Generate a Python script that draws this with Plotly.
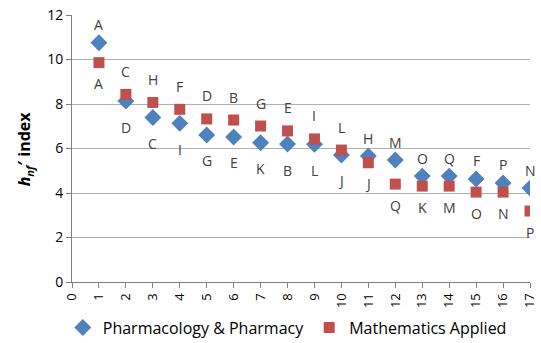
import plotly.graph_objects as go

ranks = list(range(1, 18))
pharm_values = [10.75, 8.13, 7.39, 7.13, 6.61, 6.52, 6.26, 6.20, 6.19, 5.71, 5.66, 5.48, 4.76, 4.76, 4.63, 4.45, 4.22]
pharm_labels = ["A", "D", "C", "I", "G", "E", "K", "B", "L", "J", "H", "M", "O", "Q", "F", "P", "N"]
pharm_pos = ["above", "below", "below", "below", "below", "below", "below", "below", "below", "below",
             "above", "above", "above", "above", "above", "above", "above"]
math_values = [9.86, 8.43, 8.07, 7.76, 7.33, 7.28, 7.01, 6.79, 6.43, 5.93, 5.36, 4.40, 4.31, 4.31, 4.04, 4.04, 3.19]
math_labels = ["A", "C", "H", "F", "D", "B", "G", "E", "I", "L", "J", "Q", "K", "M", "O", "N", "P"]
math_pos = ["below", "above", "above", "above", "above", "above", "above", "above", "above", "above",
            "below", "below", "below", "below", "below", "below", "below"]
series_names = ["Pharmacology & Pharmacy", "Mathematics Applied"]
x_ticks = list(range(0, 18))
y_ticks = [0, 2, 4, 6, 8, 10, 12]

BLUE = "#4f81bd"
RED = "#c0504d"
FONT = "Open Sans"

fig = go.Figure()
fig.add_trace(go.Scatter(x=ranks, y=pharm_values, mode="markers", name=series_names[0],
                         marker=dict(symbol="diamond", size=13, color=BLUE)))
fig.add_trace(go.Scatter(x=ranks, y=math_values, mode="markers", name=series_names[1],
                         marker=dict(symbol="square", size=11, color=RED)))

annotations = []
for xs, ys, labs, poss, up, down in [
    (ranks, pharm_values, pharm_labels, pharm_pos, 18, -26),
    (ranks, math_values, math_labels, math_pos, 23, -21),
]:
    for x, y, lab, pos in zip(xs, ys, labs, poss):
        annotations.append(dict(x=x, y=y, text=lab, showarrow=False, xref="x", yref="y",
                                yshift=up if pos == "above" else down,
                                font=dict(family=FONT, size=14, color="#404040")))

annotations.append(dict(text="<b><i>h</i><sub><i>nf</i></sub>\u2032 index</b>", xref="paper", yref="paper",
                        x=-0.103, y=0.5, xanchor="center", yanchor="middle", textangle=-90, showarrow=False,
                        font=dict(family=FONT, size=16, color="#000000")))

fig.update_layout(
    width=541, height=343,
    margin=dict(l=72, r=11, t=15, b=61, autoexpand=False),
    paper_bgcolor="white", plot_bgcolor="white",
    font=dict(family=FONT, size=13, color="#000000"),
    showlegend=True,
    legend=dict(orientation="h", x=0.47, xanchor="center", yref="container", y=0.045, yanchor="middle",
                font=dict(family=FONT, size=16, color="#000000"), itemwidth=30, tracegroupgap=0),
    annotations=annotations,
)
fig.update_xaxes(range=[0, 17], tickvals=x_ticks, ticktext=[str(v) for v in x_ticks], tickangle=-90,
                 showgrid=False, zeroline=False, showline=True, linecolor="#808080", linewidth=1,
                 ticks="outside", ticklen=5, tickcolor="#808080", automargin=False,
                 tickfont=dict(family=FONT, size=13, color="#000000"))
fig.update_yaxes(range=[0, 12], tickvals=y_ticks, showgrid=True, gridcolor="#b0b0b0", gridwidth=1,
                 zeroline=False, showline=True, linecolor="#808080", linewidth=1,
                 ticks="outside", ticklen=5, tickcolor="#808080", automargin=False,
                 tickfont=dict(family=FONT, size=14, color="#000000"))

fig.write_html("out.html")
